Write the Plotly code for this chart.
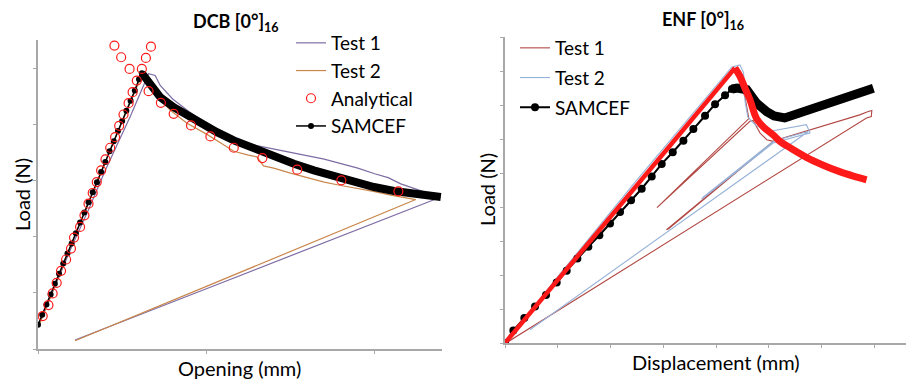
import plotly.graph_objects as go

# ---------------- DCB (left) data ----------------
dcb_test1_x = [0.012, 0.10, 0.20, 0.30, 0.40, 0.468, 0.55, 0.627, 0.657, 0.696, 0.726, 0.80, 0.90, 1.00, 1.10, 1.202, 1.30, 1.40, 1.50, 1.60, 1.70, 1.80, 1.90, 2.00, 2.08, 2.155, 2.25, 2.33, 2.39,
               1.004, 0.220]
dcb_test1_y = [0.48, 1.10, 1.82, 2.48, 3.18, 3.62, 4.15, 4.69, 4.90, 4.87, 4.69, 4.45, 4.22, 4.02, 3.86, 3.70, 3.62, 3.56, 3.50, 3.43, 3.38, 3.30, 3.22, 3.12, 3.05, 2.94, 2.84, 2.76, 2.70,
               1.078, 0.16]

dcb_test2_x = [0.01, 0.20, 0.40, 0.60, 0.62, 0.70, 0.786, 0.885, 1.004, 1.10, 1.163, 1.25, 1.30, 1.34, 1.40, 1.50, 1.60, 1.70, 1.80, 1.90, 2.00, 2.095, 2.18, 2.244,
               1.004, 0.220]
dcb_test2_y = [0.45, 1.88, 3.33, 4.78, 4.90, 4.55, 4.25, 4.02, 3.82, 3.64, 3.52, 3.45, 3.42, 3.26, 3.22, 3.13, 3.05, 2.97, 2.91, 2.86, 2.80, 2.74, 2.70, 2.66,
               1.12, 0.147]

dcb_anal_x = [0.028, 0.062, 0.087, 0.111, 0.137, 0.167, 0.196, 0.214, 0.250, 0.276, 0.300, 0.325, 0.349, 0.375, 0.401, 0.429, 0.458, 0.482, 0.508, 0.538, 0.562, 0.587, 0.617, 0.641, 0.671,
              0.454, 0.494, 0.544, 0.657, 0.730, 0.806, 0.909, 1.024, 1.163, 1.333, 1.540, 1.802, 2.141]
dcb_anal_y = [0.586, 0.782, 0.989, 1.178, 1.391, 1.593, 1.788, 1.983, 2.173, 2.380, 2.587, 2.777, 2.972, 3.179, 3.375, 3.582, 3.771, 3.973, 4.174, 4.375, 4.571, 4.778, 4.985, 5.181, 5.382,
              5.400, 5.193, 4.985, 4.589, 4.381, 4.186, 3.979, 3.783, 3.582, 3.399, 3.191, 3.002, 2.806]

dcb_sam_x = [0.000, 0.025, 0.050, 0.075, 0.100, 0.125, 0.150, 0.175, 0.200, 0.225, 0.250, 0.275, 0.300, 0.325, 0.350, 0.375, 0.400, 0.425, 0.450, 0.475, 0.500, 0.525, 0.550, 0.575, 0.600, 0.617]
dcb_sam_y = [0.43, 0.61, 0.79, 0.97, 1.16, 1.34, 1.52, 1.70, 1.88, 2.06, 2.25, 2.43, 2.61, 2.79, 2.97, 3.15, 3.33, 3.52, 3.70, 3.88, 4.06, 4.24, 4.42, 4.60, 4.80, 4.91]
dcb_sam_decay_x = [0.617, 0.647, 0.726, 0.806, 0.885, 0.964, 1.063, 1.163, 1.282, 1.401, 1.520, 1.639, 1.758, 1.877, 1.996, 2.115, 2.234, 2.333, 2.393]
dcb_sam_decay_y = [4.91, 4.778, 4.482, 4.304, 4.156, 4.008, 3.860, 3.712, 3.564, 3.428, 3.298, 3.179, 3.073, 2.972, 2.883, 2.812, 2.753, 2.718, 2.706]

# ---------------- ENF (right) data ----------------
enf_test1_x = [0.0, 4.38, 4.55, 4.62, 2.88, 4.64, 4.70, 4.83, 4.96, 5.08, 3.06, 3.10, 5.10, 5.59, 6.22, 6.72, 6.87, 6.95, 6.94, 6.85, 0.05]
enf_test1_y = [0.0, 8.10, 7.20, 6.60, 3.98, 6.52, 6.55, 6.18, 5.98, 5.93, 3.33, 3.36, 5.95, 6.18, 6.47, 6.71, 6.80, 6.84, 6.66, 6.62, 0.03]

enf_test2_x = [0.0, 1.0, 2.5, 4.30, 4.45, 4.52, 4.55, 4.60, 4.75, 5.00, 5.71, 5.78, 5.08, 3.725, 3.76, 5.10, 5.745, 0.473]
enf_test2_y = [0.0, 1.95, 4.80, 8.12, 8.18, 7.95, 7.10, 6.65, 6.40, 6.22, 6.42, 6.18, 5.88, 4.235, 4.30, 5.95, 6.22, 0.39]

enf_sam_x = [0.0, 0.158, 0.366, 0.569, 0.777, 0.979, 1.169, 1.371, 1.579, 1.788, 1.990, 2.179, 2.388, 2.590, 2.780, 2.969, 3.178, 3.380, 3.569, 3.790, 3.980, 4.169, 4.30]
enf_sam_y = [0.0, 0.371, 0.732, 1.073, 1.415, 1.776, 2.127, 2.488, 2.829, 3.171, 3.512, 3.854, 4.195, 4.537, 4.898, 5.268, 5.610, 5.951, 6.293, 6.683, 7.024, 7.288, 7.47]
enf_sam_decay_x = [4.30, 4.40, 4.58, 4.77, 4.96, 5.10, 5.30, 5.59, 5.84, 6.10, 6.35, 6.60, 6.82, 6.98]
enf_sam_decay_y = [7.47, 7.50, 7.45, 7.05, 6.80, 6.68, 6.62, 6.76, 6.88, 7.02, 7.16, 7.30, 7.42, 7.49]

enf_anal_x = [0.0, 4.356]
enf_anal_y = [0.0, 8.09]
enf_anal_decay_x = [4.356, 4.45, 4.545, 4.64, 4.767, 4.90, 5.08, 5.21, 5.40, 5.71, 6.03, 6.34, 6.60, 6.85]
enf_anal_decay_y = [8.09, 7.85, 7.50, 7.16, 6.60, 6.35, 6.12, 5.93, 5.74, 5.46, 5.23, 5.04, 4.91, 4.80]

# ---------------- styling ----------------
OFF = 8  # page body margin of the html page
W, H = 914 - OFF, 381 - OFF
FONT = "Lato"
PURPLE = "#7d6ca4"
ORANGE = "#c9874c"
DRED = "#b24844"
LBLUE = "#97b2d8"
RED = "#ff1a1a"
AX = "#a8a8a8"


def px(x):
    return (x - OFF) / W


def py(y):
    return 1 - (y - OFF) / H


fig = go.Figure()

# Left chart
fig.add_trace(go.Scatter(x=dcb_test1_x, y=dcb_test1_y, mode="lines", name="Test 1",
                         line=dict(color=PURPLE, width=1.2), legendgroup="a1", legendrank=1,
                         xaxis="x", yaxis="y", legend="legend"))
fig.add_trace(go.Scatter(x=dcb_test2_x, y=dcb_test2_y, mode="lines", name="Test 2",
                         line=dict(color=ORANGE, width=1.2), legendgroup="a2", legendrank=2,
                         xaxis="x", yaxis="y", legend="legend"))
fig.add_trace(go.Scatter(x=dcb_sam_decay_x, y=dcb_sam_decay_y, mode="lines", showlegend=False,
                         line=dict(color="black", width=8), xaxis="x", yaxis="y", hoverinfo="skip"))
fig.add_trace(go.Scatter(x=dcb_sam_x, y=dcb_sam_y, mode="lines+markers", name="SAMCEF",
                         line=dict(color="black", width=1.5), marker=dict(size=6, color="black"),
                         legendgroup="a4", legendrank=4, xaxis="x", yaxis="y", legend="legend"))
fig.add_trace(go.Scatter(x=dcb_anal_x, y=dcb_anal_y, mode="markers", name="Analytical",
                         marker=dict(symbol="circle-open", size=9, color=RED, line=dict(width=1.2)),
                         legendgroup="a3", legendrank=3, xaxis="x", yaxis="y", legend="legend"))

# Right chart
fig.add_trace(go.Scatter(x=enf_test1_x, y=enf_test1_y, mode="lines", name="Test 1",
                         line=dict(color=DRED, width=1.1), legendgroup="b1", legendrank=1,
                         xaxis="x2", yaxis="y2", legend="legend2"))
fig.add_trace(go.Scatter(x=enf_test2_x, y=enf_test2_y, mode="lines", name="Test 2",
                         line=dict(color=LBLUE, width=1.1), legendgroup="b2", legendrank=2,
                         xaxis="x2", yaxis="y2", legend="legend2"))
fig.add_trace(go.Scatter(x=enf_sam_decay_x, y=enf_sam_decay_y, mode="lines", showlegend=False,
                         line=dict(color="black", width=9), xaxis="x2", yaxis="y2", hoverinfo="skip"))
fig.add_trace(go.Scatter(x=enf_sam_x, y=enf_sam_y, mode="lines+markers", name="SAMCEF",
                         line=dict(color="black", width=2), marker=dict(size=8, color="black"),
                         legendgroup="b3", legendrank=3, xaxis="x2", yaxis="y2", legend="legend2"))
fig.add_trace(go.Scatter(x=enf_anal_x, y=enf_anal_y, mode="lines", showlegend=False,
                         line=dict(color=RED, width=4.5), xaxis="x2", yaxis="y2", hoverinfo="skip"))
fig.add_trace(go.Scatter(x=enf_anal_decay_x, y=enf_anal_decay_y, mode="lines", showlegend=False,
                         line=dict(color=RED, width=7, shape="spline"), xaxis="x2", yaxis="y2", hoverinfo="skip"))

axis_common = dict(showline=True, linecolor=AX, linewidth=1.5, ticks="outside", ticklen=3,
                   tickcolor=AX, tickwidth=1, showticklabels=False, showgrid=False, zeroline=False,
                   fixedrange=True)

fig.update_layout(
    width=W, height=H,
    margin=dict(l=0, r=0, t=0, b=0),
    paper_bgcolor="white", plot_bgcolor="white",
    font=dict(family=FONT, color="black"),
    xaxis=dict(domain=[px(38), px(442)], range=[0, 2.4], tickvals=[0, 1, 2], anchor="y", **axis_common),
    yaxis=dict(domain=[py(349), py(40)], range=[0, 5.5], tickvals=[0, 1, 2, 3, 4, 5], anchor="x", **axis_common),
    xaxis2=dict(domain=[px(505), px(913)], range=[0, 7.73], tickvals=[0, 1, 2, 3, 4, 5, 6, 7], anchor="y2", **axis_common),
    yaxis2=dict(domain=[py(343), py(37)], range=[0, 9], tickvals=[0, 1, 2, 3, 4, 5, 6, 7, 8, 9], anchor="x2", **axis_common),
    legend=dict(x=px(291), y=py(24), xanchor="left", yanchor="top", bgcolor="rgba(0,0,0,0)",
                font=dict(family=FONT, size=19, color="black"), tracegroupgap=0, itemwidth=30),
    legend2=dict(x=px(515), y=py(29), xanchor="left", yanchor="top", bgcolor="rgba(0,0,0,0)",
                 font=dict(family=FONT, size=19, color="black"), tracegroupgap=2, itemwidth=30),
    showlegend=True,
)

ann = [
    dict(text="<b>DCB [0°]<sub>16</sub></b>", x=px(236), y=py(22), size=18),
    dict(text="<b>ENF [0°]<sub>16</sub></b>", x=px(703), y=py(20), size=18),
    dict(text="Opening (mm)", x=px(240), y=py(368), size=20),
    dict(text="Displacement (mm)", x=px(716), y=py(362), size=20),
]
for a in ann:
    fig.add_annotation(text=a["text"], x=a["x"], y=a["y"], xref="paper", yref="paper",
                       showarrow=False, xanchor="center", yanchor="middle",
                       font=dict(family=FONT, size=a["size"], color="black"))
for xx, yy in [(22, 195), (487, 190)]:
    fig.add_annotation(text="Load (N)", x=px(xx), y=py(yy), xref="paper", yref="paper",
                       showarrow=False, xanchor="center", yanchor="middle", textangle=-90,
                       font=dict(family=FONT, size=20, color="black"))

fig.write_html("out.html")
